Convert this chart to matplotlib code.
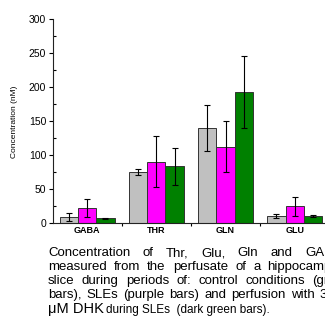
import numpy as np
import matplotlib
matplotlib.use("Agg")
import matplotlib.pyplot as plt
from matplotlib.ticker import MultipleLocator, FixedLocator, NullFormatter

plt.rcParams['font.family'] = ['Liberation Sans', 'DejaVu Sans']

# data
categories = ['GABA', 'THR', 'GLN', 'GLU']
control = [9, 75, 140, 10]
control_err = [6, 4.5, 34, 3]
sle = [22, 90, 112, 24]
sle_err = [13.5, 37, 38, 14]
dhk = [6.5, 83, 192, 10]
dhk_err = [1, 27, 53, 1]

W, H = 325, 329
fig = plt.figure(figsize=(W / 100, H / 100), dpi=100)
ax = fig.add_axes([52.5 / W, 1 - 222.7 / H, 276.8 / W, 203.7 / H])

x = np.arange(1, len(categories) + 1)
bw = 0.265
ekw = dict(ecolor='black', elinewidth=0.8, capsize=2.2, capthick=0.8)
ax.bar(x - bw, control, bw, yerr=control_err, color='#c0c0c0', edgecolor='#333333', linewidth=0.7, error_kw=ekw)
ax.bar(x, sle, bw, yerr=sle_err, color='#ff00ff', edgecolor='#333333', linewidth=0.7, error_kw=ekw)
ax.bar(x + bw, dhk, bw, yerr=dhk_err, color='#008000', edgecolor='#333333', linewidth=0.7, error_kw=ekw)

ax.set_xlim(0.5, 4.5)
ax.set_ylim(0, 300)
ax.spines['top'].set_visible(False)
ax.spines['right'].set_visible(False)
for s in ['left', 'bottom']:
    ax.spines[s].set_linewidth(0.8)
    ax.spines[s].set_color('#222222')

ax.yaxis.set_major_locator(MultipleLocator(50))
ax.yaxis.set_minor_locator(MultipleLocator(25))
ax.tick_params(axis='y', which='major', length=3, width=0.8, labelsize=7.5, pad=1.5)
ax.tick_params(axis='y', which='minor', length=2, width=0.8, direction='in')

ax.set_xticks(x)
ax.set_xticklabels(categories, fontsize=6.5, fontweight='bold')
ax.tick_params(axis='x', which='major', length=0, pad=2.5)
ax.xaxis.set_minor_locator(FixedLocator([1.5, 2.5, 3.5]))
ax.xaxis.set_minor_formatter(NullFormatter())
ax.tick_params(axis='x', which='minor', length=2, width=0.8)

fig.text(14 / W, 1 - 121.5 / H, 'Concentration (nM)', rotation=90, fontsize=6,
         ha='center', va='center')

# caption: justified paragraph, right edge falls outside the picture
renderer = fig.canvas.get_renderer()
cap_size = 9.5
x0, x1 = 48, 342
lines = [
    ('Concentration of Thr, Glu, Gln and GABA', 256),
    ('measured from the perfusate of a hippocampal', 270),
    ('slice during periods of: control conditions (gray', 284),
    ('bars), SLEs (purple bars) and perfusion with 300', 298),
]
for line, yb in lines:
    words = line.split()
    texts = [fig.text(0, 0, w, fontsize=cap_size, va='baseline') for w in words]
    widths = [t.get_window_extent(renderer).width for t in texts]
    gap = (x1 - x0 - sum(widths)) / (len(words) - 1)
    xp = x0
    for t, w in zip(texts, widths):
        t.set_position((xp / W, 1 - yb / H))
        xp += w + gap

t1 = fig.text(x0 / W, 1 - 313 / H, 'μM DHK', fontsize=10.5, va='baseline')
w1 = t1.get_window_extent(renderer).width
fig.text((x0 + w1 + 2) / W, 1 - 313 / H, 'during SLEs  (dark green bars).', fontsize=8.5, va='baseline')

fig.savefig('out.png', dpi=100)
